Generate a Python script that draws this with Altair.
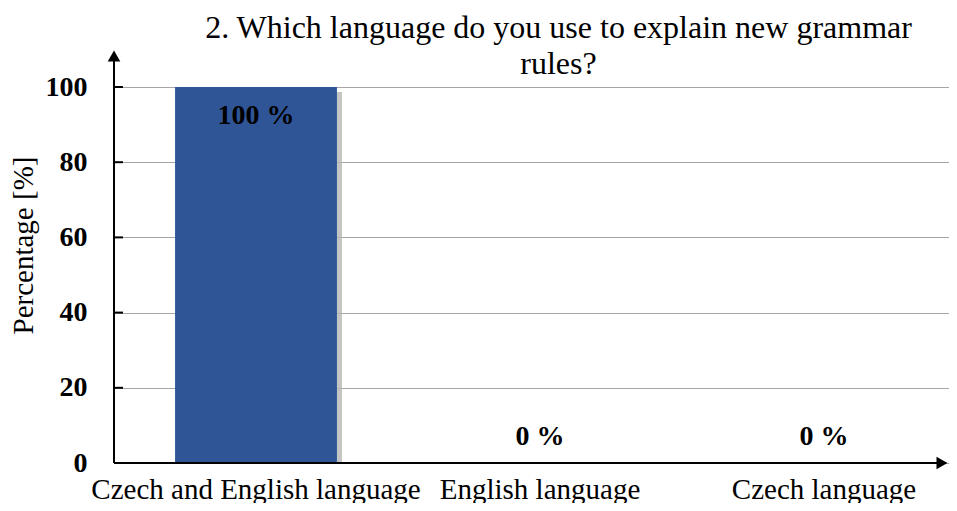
import altair as alt
import pandas as pd

categories = ["Czech and English language", "English language", "Czech language"]
values = [100, 0, 0]
labels = ["100 %", "0 %", "0 %"]
y_ticks = [0, 20, 40, 60, 80, 100]

title_lines = ["2. Which language do you use to explain new grammar", "rules?"]
y_title = "Percentage [%]"

df = pd.DataFrame({"category": categories, "value": values, "label": labels})
ticks_df = pd.DataFrame({"t": y_ticks})
one = pd.DataFrame({"k": [0]})

FONT = "Liberation Serif"
W, H = 835, 376

xscale = alt.Scale(domain=categories, range=[0, 852], paddingInner=0.43, paddingOuter=0.215)
yscale = alt.Scale(domain=[0, 100])

xenc = alt.X("category:N", sort=categories, scale=xscale,
             axis=alt.Axis(title=None, domain=False, ticks=False, labelAngle=0,
                           labelFont=FONT, labelFontSize=29, labelColor="black",
                           labelPadding=12, labelLimit=0, grid=False))
yenc = alt.Y("value:Q", scale=yscale,
             axis=alt.Axis(title=y_title, values=y_ticks, domain=False, ticks=False,
                           labelFont=FONT, labelFontSize=28, labelFontWeight="bold",
                           labelColor="black", labelPadding=27,
                           grid=True, gridColor="#a6a6a6", gridWidth=1.2,
                           titleFont=FONT, titleFontSize=29, titleFontWeight="normal",
                           titleColor="black", titleX=-91, titleY=158,
                           titleAngle=-90, titleAlign="center", titleBaseline="middle"))

base = alt.Chart(df)

shadow = base.transform_filter("datum.value > 0").mark_bar(
    color="#b5b5b5", opacity=0.8, xOffset=5, yOffset=5
).encode(x=xenc, y=yenc)

bars = base.mark_bar(color="#2F5597").encode(x=xenc, y=yenc)

# white strip hiding the shadow's foot below the axis line
foot_mask = alt.Chart(one).mark_rect(color="white").encode(
    x=alt.value(0), x2=alt.value(W), y=alt.value(H + 1), y2=alt.value(H + 10))

lab_in = base.transform_filter("datum.value > 0").mark_text(
    font=FONT, fontSize=28, fontWeight="bold", color="black", baseline="middle", dy=29
).encode(x=alt.X("category:N", sort=categories, scale=xscale), y=alt.Y("value:Q", scale=yscale), text="label:N")

lab_zero = base.transform_filter("datum.value == 0").mark_text(
    font=FONT, fontSize=28, fontWeight="bold", color="black", baseline="middle", dy=-26
).encode(x=alt.X("category:N", sort=categories, scale=xscale), y=alt.Y("value:Q", scale=yscale), text="label:N")

yaxis_line = alt.Chart(one).mark_rule(color="black", strokeWidth=2).encode(
    x=alt.value(0), y=alt.value(-30), y2=alt.value(H))
xaxis_line = alt.Chart(one).mark_rule(color="black", strokeWidth=2).encode(
    x=alt.value(0), x2=alt.value(W - 8), y=alt.value(H))
up_arrow = alt.Chart(one).mark_point(shape="triangle-up", filled=True, color="black",
                                     opacity=1, size=160).encode(
    x=alt.value(0), y=alt.value(-31))
right_arrow = alt.Chart(one).mark_point(shape="triangle-right", filled=True, color="black",
                                        opacity=1, size=160).encode(
    x=alt.value(W - 7), y=alt.value(H))
tick_marks = alt.Chart(ticks_df).mark_rule(color="black", strokeWidth=2).encode(
    y=alt.Y("t:Q", scale=yscale), x=alt.value(0), x2=alt.value(9))

chart = alt.layer(
    shadow, bars, foot_mask, lab_in, lab_zero, yaxis_line, xaxis_line, tick_marks, up_arrow, right_arrow
).properties(
    width=W, height=H,
    title=alt.TitleParams(title_lines, font=FONT, fontSize=32, fontWeight="normal",
                          color="black", lineHeight=36, anchor="middle", dx=27, dy=32, offset=2),
    autosize=alt.AutoSizeParams(type="none"),
    padding={"left": 106, "top": 79, "right": 0, "bottom": 40},
).configure_view(stroke=None).configure(background="white")

chart.save("out.html", embed_options={"renderer": "svg", "actions": False})
